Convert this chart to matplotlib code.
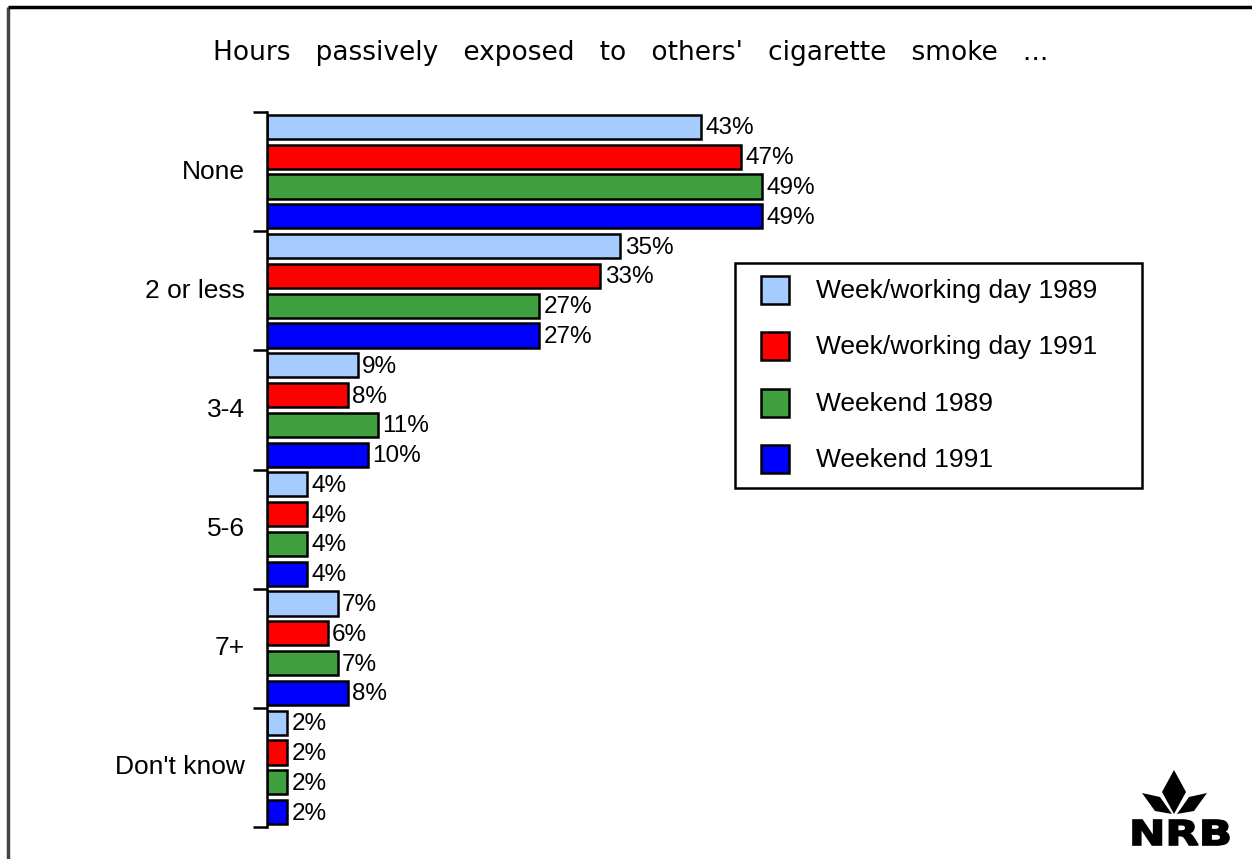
import matplotlib
matplotlib.use("Agg")
import matplotlib.pyplot as plt
from matplotlib.patches import Rectangle, Polygon, PathPatch
from matplotlib.textpath import TextPath
from matplotlib.font_manager import FontProperties
from matplotlib.transforms import Affine2D
from matplotlib import font_manager

categories = ["None", "2 or less", "3-4", "5-6", "7+", "Don't know"]
series_names = ["Week/working day 1989", "Week/working day 1991",
                "Weekend 1989", "Weekend 1991"]
week_1989 = [43, 35, 9, 4, 7, 2]
week_1991 = [47, 33, 8, 4, 6, 2]
weekend_1989 = [49, 27, 11, 4, 7, 2]
weekend_1991 = [49, 27, 10, 4, 8, 2]
series_values = [week_1989, week_1991, weekend_1989, weekend_1991]
colors = ["#A6CCFF", "#FF0000", "#40A040", "#0000FF"]
title = "Hours passively exposed to others' cigarette smoke ..."
logo_text = "NRB"

W, H, DPI = 1252, 859, 100
plt.rcParams["font.family"] = ["Liberation Sans", "DejaVu Sans"]

available = {f.name for f in font_manager.fontManager.ttflist}
title_family = "Liberation Sans Narrow" if "Liberation Sans Narrow" in available else "DejaVu Sans"

fig = plt.figure(figsize=(W / DPI, H / DPI), dpi=DPI)

# main bar axes (pixel-based placement)
left_px, right_px, top_px, bottom_px = 267, 1145, 112, 827
ax = fig.add_axes([left_px / W, 1 - bottom_px / H,
                   (right_px - left_px) / W, (bottom_px - top_px) / H])
n_ser = len(series_values)
n_cat = len(categories)
xmax = 87.0
for c in range(n_cat):
    for s in range(n_ser):
        y = c * n_ser + s
        v = series_values[s][c]
        ax.barh(y, v, height=0.81, color=colors[s], edgecolor="black",
                linewidth=1.8, zorder=2)
        ax.text(v + 0.45, y + 0.05, f"{v}%", va="center", ha="left",
                fontsize=17.5, color="black")
ax.set_xlim(0, xmax)
ax.set_ylim(n_cat * n_ser - 0.5, -0.5)
boundaries = [c * n_ser - 0.5 for c in range(n_cat + 1)]
ax.set_yticks(boundaries)
ax.set_yticklabels([])
ax.tick_params(axis="y", length=10, width=1.8, direction="out", color="black")
ax.set_xticks([])
for sp in ["top", "right", "bottom"]:
    ax.spines[sp].set_visible(False)
ax.spines["left"].set_linewidth(1.8)
ax.spines["left"].set_zorder(3)
for c, name in enumerate(categories):
    ax.text(-2.2, c * n_ser + 1.5, name, ha="right", va="center",
            fontsize=19, color="black")

# overlay in figure pixels: border, title, legend, logo
ov = fig.add_axes([0, 0, 1, 1], zorder=5)
ov.set_xlim(0, W)
ov.set_ylim(H, 0)
ov.axis("off")
ov.patch.set_alpha(0)
ov.plot([8, 8], [H, 7], color="#444444", lw=2.5, solid_capstyle="butt")
ov.plot([8, W], [7, 7], color="black", lw=2.5, solid_capstyle="butt")

ov.text(631, 53, title.replace(" ", "   "), ha="center", va="center",
        fontsize=19, family=title_family, color="black")

# legend box
ov.add_patch(Rectangle((735, 263), 407, 225, facecolor="white",
                       edgecolor="black", lw=1.8))
for i, (name, col) in enumerate(zip(series_names, colors)):
    yc = 290 + i * 56.3
    ov.add_patch(Rectangle((761, yc - 14), 28, 28, facecolor=col,
                           edgecolor="black", lw=1.8))
    ov.text(816, yc + 1, name, ha="left", va="center", fontsize=19,
            color="black")

# NRB logo: plant emblem above heavy lettering
ov.add_patch(Polygon([(1174, 770), (1186, 792), (1174, 814), (1162, 792)],
                     closed=True, facecolor="black", edgecolor="none"))
ov.add_patch(Polygon([(1142, 793), (1160, 797), (1172, 814), (1155, 811)],
                     closed=True, facecolor="black", edgecolor="none"))
ov.add_patch(Polygon([(1207, 793), (1189, 797), (1177, 814), (1194, 811)],
                     closed=True, facecolor="black", edgecolor="none"))
tp = TextPath((0, 0), logo_text, size=10,
              prop=FontProperties(family="DejaVu Sans", weight="bold"))
bb = tp.get_extents()
x0, x1, y0, y1 = 1133, 1229, 820, 845
sx = (x1 - x0) / bb.width
sy = (y1 - y0) / bb.height
tr = (Affine2D().translate(-bb.x0, -bb.y0).scale(sx, -sy)
      .translate(x0, y1))
ov.add_patch(PathPatch(tr.transform_path(tp), facecolor="black",
                       edgecolor="black", lw=1.2))

fig.savefig("out.png", dpi=DPI, facecolor="white")
